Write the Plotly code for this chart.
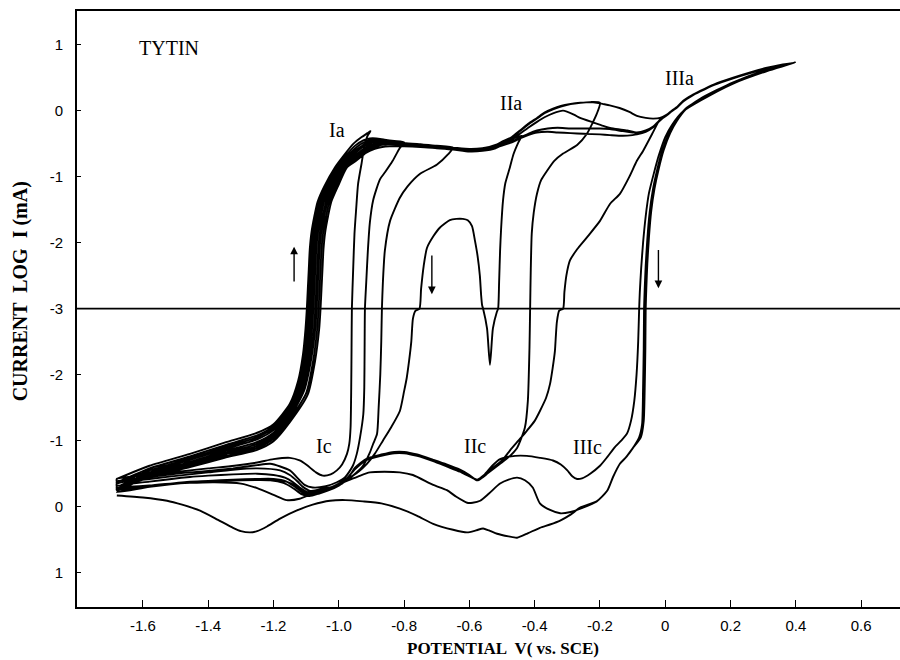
import plotly.graph_objects as go

# ---------------- data (potential E in V vs SCE, L = log10 |I| in mA) ----------------
# half "a": anodic current (upper panel), half "c": cathodic current (lower, mirrored panel)

# cycle 1 (switch at Ia peak)
c1_fc_E = [-1.68, -1.58, -1.456, -1.35, -1.25, -1.20, -1.15, -1.125, -1.11, -1.102, -1.098]
c1_fc_L = [-0.42, -0.62, -0.80, -0.97, -1.12, -1.25, -1.56, -1.9, -2.3, -2.7, -3.0]
c1_fa_E = [-1.098, -1.095, -1.092, -1.089, -1.084, -1.075, -1.065, -1.045, -1.012, -0.985, -0.955, -0.930, -0.912, -0.903]
c1_fa_L = [-3.0, -2.7, -2.4, -2.1, -1.85, -1.6, -1.38, -1.15, -0.86, -0.68, -0.50, -0.40, -0.34, -0.31]
c1_ra_E = [-0.903, -0.912, -0.922, -0.930, -0.941, -0.947, -0.952, -0.956, -0.960]
c1_ra_L = [-0.31, -0.38, -0.55, -0.79, -1.11, -1.5, -1.86, -2.4, -3.0]
c1_rc_E = [-0.960, -0.961, -0.962, -0.964, -0.968, -0.975, -0.99, -1.006, -1.025, -1.049, -1.07, -1.098, -1.12,
           -1.15, -1.20, -1.25, -1.32, -1.40, -1.456, -1.58, -1.68]
c1_rc_L = [-3.0, -2.4, -1.8, -1.2, -0.95, -0.80, -0.64, -0.55, -0.49, -0.47, -0.52, -0.63, -0.70,
           -0.74, -0.72, -0.67, -0.62, -0.58, -0.55, -0.48, -0.42]

# cycle 2
c2_fc_E = [-1.68, -1.58, -1.456, -1.35, -1.25, -1.20, -1.15, -1.122, -1.106, -1.097, -1.093]
c2_fc_L = [-0.38, -0.58, -0.76, -0.93, -1.08, -1.22, -1.52, -1.88, -2.3, -2.7, -3.0]
c2_fa_E = [-1.093, -1.090, -1.087, -1.084, -1.079, -1.070, -1.060, -1.040, -1.007, -0.980, -0.950, -0.925, -0.905,
           -0.885, -0.86, -0.83, -0.80]
c2_fa_L = [-3.0, -2.7, -2.4, -2.1, -1.85, -1.6, -1.38, -1.15, -0.86, -0.69, -0.53, -0.45, -0.42,
           -0.42, -0.44, -0.46, -0.48]
c2_ra_E = [-0.80, -0.815, -0.835, -0.858, -0.874, -0.895, -0.905, -0.911, -0.916, -0.920]
c2_ra_L = [-0.48, -0.58, -0.76, -0.93, -1.04, -1.36, -1.7, -2.12, -2.6, -3.0]
c2_rc_E = [-0.920, -0.921, -0.922, -0.925, -0.935, -0.945, -0.957, -0.98, -1.006, -1.04, -1.08, -1.105, -1.12,
           -1.15, -1.21, -1.25, -1.324, -1.40, -1.456, -1.58, -1.68]
c2_rc_L = [-3.0, -2.4, -1.8, -1.4, -1.05, -0.80, -0.62, -0.45, -0.37, -0.31, -0.29, -0.33, -0.40,
           -0.55, -0.65, -0.63, -0.58, -0.54, -0.52, -0.45, -0.38]

# cycle 3
c3_fc_E = [-1.68, -1.58, -1.456, -1.35, -1.25, -1.20, -1.15, -1.12, -1.102, -1.092, -1.088]
c3_fc_L = [-0.35, -0.55, -0.73, -0.90, -1.05, -1.19, -1.48, -1.85, -2.3, -2.7, -3.0]
c3_fa_E = [-1.088, -1.085, -1.082, -1.079, -1.074, -1.065, -1.055, -1.035, -1.002, -0.975, -0.945, -0.918, -0.898,
           -0.88, -0.85, -0.80, -0.75, -0.70, -0.65]
c3_fa_L = [-3.0, -2.7, -2.4, -2.1, -1.85, -1.6, -1.38, -1.15, -0.86, -0.70, -0.55, -0.47, -0.44,
           -0.44, -0.46, -0.49, -0.51, -0.53, -0.56]
c3_ra_E = [-0.65, -0.665, -0.70, -0.751, -0.79, -0.813, -0.843, -0.859, -0.865, -0.868]
c3_ra_L = [-0.56, -0.66, -0.82, -0.955, -1.15, -1.32, -1.67, -2.12, -2.6, -3.0]
c3_rc_E = [-0.868, -0.870, -0.873, -0.878, -0.883, -0.895, -0.905, -0.926, -0.95, -0.975, -1.0, -1.027, -1.06,
           -1.088, -1.11, -1.128, -1.15, -1.18, -1.25, -1.324, -1.40, -1.456, -1.58, -1.68]
c3_rc_L = [-3.0, -2.5, -2.0, -1.5, -1.1, -0.95, -0.82, -0.62, -0.50, -0.40, -0.33, -0.29, -0.26,
           -0.24, -0.30, -0.39, -0.48, -0.55, -0.58, -0.56, -0.52, -0.49, -0.42, -0.35]

# cycle 4 (switch after IIa onset; re-oxidation dome)
c4_fc_E = [-1.68, -1.58, -1.456, -1.35, -1.25, -1.20, -1.15, -1.117, -1.098, -1.087, -1.083]
c4_fc_L = [-0.31, -0.52, -0.71, -0.87, -1.02, -1.16, -1.45, -1.82, -2.28, -2.7, -3.0]
c4_fa_E = [-1.083, -1.080, -1.077, -1.074, -1.069, -1.060, -1.050, -1.030, -0.998, -0.970, -0.940, -0.912, -0.890,
           -0.87, -0.84, -0.80, -0.75, -0.70, -0.65, -0.60, -0.56, -0.52, -0.49, -0.465, -0.44]
c4_fa_L = [-3.0, -2.7, -2.4, -2.1, -1.85, -1.6, -1.38, -1.15, -0.86, -0.71, -0.57, -0.49, -0.46,
           -0.45, -0.47, -0.50, -0.52, -0.54, -0.57, -0.59, -0.58, -0.54, -0.48, -0.42, -0.38]
c4_ra_E = [-0.44, -0.45, -0.465, -0.476, -0.49, -0.497, -0.503, -0.506, -0.509, -0.512]
c4_ra_L = [-0.38, -0.48, -0.66, -0.86, -1.1, -1.36, -1.8, -2.12, -2.6, -3.0]
c4_sp_E = [-0.512, -0.516, -0.528, -0.537, -0.546, -0.558]
c4_sp_L = [-3.0, -2.95, -2.7, -2.15, -2.7, -3.0]
c4_dm_E = [-0.558, -0.561, -0.564, -0.568, -0.575, -0.583, -0.592, -0.605, -0.62, -0.64, -0.66, -0.69, -0.71,
           -0.73, -0.74, -0.748, -0.753]
c4_dm_L = [-3.0, -2.95, -2.8, -2.5, -2.2, -1.97, -1.75, -1.66, -1.64, -1.64, -1.66, -1.77, -1.9,
           -2.08, -2.35, -2.7, -3.0]
c4_rc_E = [-0.753, -0.765, -0.773, -0.778, -0.785, -0.792, -0.80, -0.813, -0.84, -0.865, -0.89, -0.914, -0.94,
           -0.966, -0.99, -1.018, -1.05, -1.079, -1.10, -1.12, -1.14, -1.165, -1.20, -1.25, -1.324, -1.40,
           -1.456, -1.58, -1.68]
c4_rc_L = [-3.0, -2.97, -2.85, -2.5, -2.2, -1.95, -1.75, -1.45, -1.2, -1.0, -0.8, -0.65, -0.53,
           -0.44, -0.35, -0.29, -0.23, -0.20, -0.23, -0.29, -0.37, -0.44, -0.48, -0.50, -0.49, -0.47,
           -0.45, -0.38, -0.31]

# cycle 5 (switch at IIa peak)
c5_fc_E = [-1.68, -1.58, -1.456, -1.35, -1.25, -1.20, -1.15, -1.114, -1.094, -1.082, -1.078]
c5_fc_L = [-0.28, -0.50, -0.68, -0.84, -0.98, -1.12, -1.42, -1.8, -2.26, -2.7, -3.0]
c5_fa_E = [-1.078, -1.075, -1.072, -1.069, -1.064, -1.055, -1.045, -1.025, -0.993, -0.965, -0.935, -0.908, -0.885,
           -0.86, -0.83, -0.80, -0.75, -0.70, -0.65, -0.60, -0.56, -0.52, -0.50, -0.47, -0.445, -0.42,
           -0.393, -0.37, -0.344, -0.32, -0.29, -0.26, -0.23, -0.20]
c5_fa_L = [-3.0, -2.7, -2.4, -2.1, -1.85, -1.6, -1.38, -1.15, -0.86, -0.72, -0.58, -0.50, -0.47,
           -0.46, -0.47, -0.49, -0.51, -0.53, -0.56, -0.58, -0.57, -0.52, -0.47, -0.40, -0.30, -0.20,
           -0.11, -0.03, 0.03, 0.07, 0.10, 0.12, 0.13, 0.12]
c5_ra_E = [-0.20, -0.21, -0.24, -0.27, -0.313, -0.34, -0.362, -0.38, -0.393, -0.403, -0.409, -0.412, -0.414]
c5_ra_L = [0.12, -0.05, -0.35, -0.52, -0.65, -0.76, -0.91, -1.05, -1.26, -1.55, -1.86, -2.4, -3.0]
c5_rc_E = [-0.414, -0.416, -0.421, -0.43, -0.454, -0.48, -0.506, -0.546, -0.574, -0.60, -0.629, -0.67, -0.711,
           -0.76, -0.80, -0.83, -0.87, -0.914, -0.95, -0.975, -1.0, -1.027, -1.06, -1.088, -1.11, -1.134,
           -1.16, -1.20, -1.25, -1.324, -1.40, -1.456, -1.58, -1.68]
c5_rc_L = [-3.0, -2.4, -1.6, -1.2, -0.89, -0.75, -0.65, -0.5, -0.40, -0.47, -0.55, -0.62, -0.70,
           -0.78, -0.82, -0.82, -0.78, -0.72, -0.58, -0.42, -0.33, -0.27, -0.22, -0.18, -0.21, -0.30,
           -0.38, -0.42, -0.42, -0.41, -0.39, -0.38, -0.32, -0.28]

# cycle 6 (switch near 0 V)
c6_fc_E = [-1.68, -1.58, -1.456, -1.35, -1.25, -1.20, -1.15, -1.11, -1.089, -1.076, -1.072]
c6_fc_L = [-0.25, -0.48, -0.66, -0.81, -0.95, -1.09, -1.38, -1.78, -2.24, -2.7, -3.0]
c6_fa_E = [-1.072, -1.069, -1.066, -1.063, -1.058, -1.049, -1.039, -1.019, -0.988, -0.960, -0.930, -0.903, -0.880,
           -0.85, -0.80, -0.75, -0.70, -0.65, -0.60, -0.56, -0.52, -0.50, -0.47, -0.445, -0.42, -0.393,
           -0.36, -0.33, -0.29, -0.25, -0.20, -0.17, -0.13, -0.10, -0.087, -0.06, -0.037, -0.016, -0.005]
c6_fa_L = [-3.0, -2.7, -2.4, -2.1, -1.85, -1.6, -1.38, -1.15, -0.86, -0.73, -0.60, -0.52, -0.49,
           -0.48, -0.50, -0.52, -0.54, -0.57, -0.60, -0.59, -0.55, -0.52, -0.47, -0.41, -0.35, -0.30,
           -0.27, -0.26, -0.27, -0.27, -0.27, -0.28, -0.31, -0.33, -0.34, -0.31, -0.24, -0.14, -0.09]
c6_ra_E = [-0.005, -0.016, -0.04, -0.068, -0.087, -0.11, -0.139, -0.169, -0.20, -0.24, -0.27, -0.292, -0.303,
           -0.309, -0.313]
c6_ra_L = [-0.09, -0.13, -0.35, -0.61, -0.76, -1.0, -1.26, -1.41, -1.67, -1.92, -2.1, -2.27, -2.5,
           -2.75, -3.0]
c6_rc_E = [-0.313, -0.325, -0.332, -0.335, -0.338, -0.345, -0.353, -0.365, -0.384, -0.40, -0.424, -0.45, -0.476,
           -0.50, -0.528, -0.55, -0.567, -0.578, -0.60, -0.629, -0.67, -0.711, -0.76, -0.80, -0.83, -0.87,
           -0.914, -0.95, -0.975, -1.0, -1.03, -1.06, -1.09, -1.115, -1.14, -1.17, -1.21, -1.30, -1.40,
           -1.456, -1.58, -1.68]
c6_rc_L = [-3.0, -2.97, -2.8, -2.6, -2.36, -2.1, -1.86, -1.65, -1.45, -1.3, -1.15, -1.0, -0.85,
           -0.7, -0.59, -0.48, -0.42, -0.40, -0.48, -0.56, -0.64, -0.71, -0.79, -0.83, -0.83, -0.79,
           -0.73, -0.59, -0.41, -0.32, -0.25, -0.20, -0.16, -0.19, -0.28, -0.36, -0.40, -0.40, -0.38,
           -0.37, -0.31, -0.25]

# cycle 7 (to +0.4 V, upper IIa path, IIIc return)
c7_fc_E = [-1.68, -1.58, -1.456, -1.35, -1.25, -1.20, -1.15, -1.106, -1.085, -1.072, -1.068]
c7_fc_L = [-0.25, -0.47, -0.64, -0.79, -0.92, -1.06, -1.35, -1.76, -2.22, -2.7, -3.0]
c7_fa_E = [-1.068, -1.065, -1.062, -1.059, -1.054, -1.045, -1.035, -1.015, -0.985, -0.957, -0.927, -0.900, -0.877,
           -0.85, -0.80, -0.75, -0.70, -0.65, -0.60, -0.56, -0.52, -0.50, -0.47, -0.445, -0.42, -0.393,
           -0.37, -0.344, -0.32, -0.29, -0.26, -0.23, -0.21, -0.19, -0.17, -0.14, -0.11, -0.087, -0.06,
           -0.037, -0.016, 0.005, 0.02, 0.037, 0.055, 0.08, 0.107, 0.15, 0.208, 0.26, 0.312, 0.36, 0.398]
c7_fa_L = [-3.0, -2.7, -2.4, -2.1, -1.85, -1.6, -1.38, -1.15, -0.86, -0.74, -0.62, -0.54, -0.50,
           -0.49, -0.50, -0.52, -0.54, -0.56, -0.58, -0.57, -0.53, -0.48, -0.41, -0.31, -0.21, -0.12,
           -0.04, 0.02, 0.06, 0.10, 0.12, 0.13, 0.12, 0.10, 0.08, 0.04, -0.02, -0.08, -0.11,
           -0.12, -0.11, -0.06, 0.0, 0.06, 0.15, 0.23, 0.30, 0.40, 0.50, 0.58, 0.65, 0.70, 0.73]
c7_ra_E = [0.398, 0.312, 0.208, 0.107, 0.055, 0.02, 0.0, -0.02, -0.035, -0.05, -0.06, -0.068, -0.074, -0.078, -0.080]
c7_ra_L = [0.73, 0.60, 0.41, 0.15, -0.01, -0.22, -0.40, -0.68, -0.95, -1.25, -1.6, -2.0, -2.4, -2.75, -3.0]
c7_rc_E = [-0.080, -0.083, -0.088, -0.095, -0.105, -0.117, -0.135, -0.155, -0.178, -0.20, -0.23, -0.255, -0.27,
           -0.285, -0.30, -0.32, -0.344, -0.384, -0.424, -0.46, -0.506, -0.53, -0.555, -0.576, -0.60, -0.629,
           -0.67, -0.711, -0.76, -0.80, -0.83, -0.87, -0.914, -0.95, -0.975, -1.0, -1.03, -1.065, -1.095,
           -1.12, -1.145, -1.18, -1.25, -1.35, -1.456, -1.58, -1.68]
c7_rc_L = [-3.0, -2.5, -2.0, -1.6, -1.3, -1.11, -1.0, -0.9, -0.75, -0.62, -0.50, -0.43, -0.42,
           -0.46, -0.55, -0.64, -0.70, -0.74, -0.77, -0.77, -0.72, -0.62, -0.48, -0.41, -0.46, -0.53,
           -0.61, -0.69, -0.77, -0.81, -0.81, -0.77, -0.71, -0.57, -0.43, -0.35, -0.28, -0.24, -0.21,
           -0.26, -0.35, -0.40, -0.41, -0.40, -0.37, -0.30, -0.22]

# cycle 8 (to +0.4 V, lower IIa path)
c8_fc_E = [-1.68, -1.58, -1.456, -1.35, -1.25, -1.20, -1.15, -1.10, -1.079, -1.066, -1.062]
c8_fc_L = [-0.22, -0.46, -0.62, -0.76, -0.89, -1.03, -1.32, -1.72, -2.2, -2.7, -3.0]
c8_fa_E = [-1.062, -1.059, -1.056, -1.053, -1.048, -1.039, -1.029, -1.009, -0.980, -0.952, -0.922, -0.895, -0.872,
           -0.85, -0.80, -0.75, -0.70, -0.65, -0.60, -0.56, -0.52, -0.50, -0.47, -0.445, -0.42, -0.393,
           -0.36, -0.33, -0.29, -0.25, -0.20, -0.17, -0.13, -0.10, -0.087, -0.06, -0.037, -0.016, 0.005,
           0.02, 0.037, 0.055, 0.08, 0.107, 0.15, 0.208, 0.26, 0.312, 0.36, 0.398]
c8_fa_L = [-3.0, -2.7, -2.4, -2.1, -1.85, -1.6, -1.38, -1.15, -0.86, -0.75, -0.63, -0.56, -0.52,
           -0.51, -0.52, -0.53, -0.55, -0.58, -0.61, -0.60, -0.56, -0.53, -0.48, -0.42, -0.37, -0.33,
           -0.32, -0.33, -0.34, -0.35, -0.36, -0.37, -0.38, -0.37, -0.36, -0.32, -0.25, -0.15, -0.06,
           0.0, 0.06, 0.14, 0.22, 0.29, 0.39, 0.49, 0.57, 0.64, 0.69, 0.73]
c8_ra_E = [0.398, 0.312, 0.208, 0.107, 0.06, 0.03, 0.01, -0.01, -0.025, -0.038, -0.048, -0.055, -0.060, -0.063, -0.065]
c8_ra_L = [0.73, 0.61, 0.42, 0.17, 0.02, -0.18, -0.36, -0.62, -0.9, -1.2, -1.55, -1.95, -2.35, -2.7, -3.0]
c8_rc_E = [-0.065, -0.066, -0.068, -0.071, -0.08, -0.099, -0.12, -0.139, -0.16, -0.178, -0.21, -0.252, -0.29,
           -0.322, -0.353, -0.384, -0.406, -0.43, -0.454, -0.48, -0.506, -0.54, -0.567, -0.59, -0.607, -0.64,
           -0.669, -0.711, -0.773, -0.813, -0.86, -0.905, -0.94, -0.975, -1.02, -1.079, -1.12, -1.16, -1.20,
           -1.25, -1.30, -1.38, -1.456, -1.58, -1.68]
c8_rc_L = [-3.0, -2.4, -1.8, -1.25, -1.05, -0.89, -0.75, -0.65, -0.45, -0.24, -0.08, 0.015, 0.08,
           0.10, 0.05, -0.05, -0.29, -0.40, -0.44, -0.41, -0.35, -0.2, -0.09, -0.06, -0.06, -0.15,
           -0.25, -0.33, -0.48, -0.52, -0.53, -0.52, -0.46, -0.39, -0.30, -0.20, -0.12, -0.10, -0.18,
           -0.28, -0.35, -0.37, -0.36, -0.32, -0.27]

# cycle 9 (to +0.4 V, crossing IIa path, outermost return)
c9_fc_E = [-1.68, -1.58, -1.456, -1.35, -1.25, -1.20, -1.15, -1.095, -1.073, -1.06, -1.056]
c9_fc_L = [-0.27, -0.44, -0.60, -0.74, -0.86, -0.99, -1.28, -1.7, -2.2, -2.7, -3.0]
c9_fa_E = [-1.056, -1.053, -1.050, -1.047, -1.042, -1.033, -1.023, -1.003, -0.975, -0.947, -0.917, -0.890, -0.867,
           -0.845, -0.80, -0.75, -0.70, -0.65, -0.60, -0.56, -0.52, -0.50, -0.47, -0.445, -0.42, -0.393,
           -0.37, -0.344, -0.313, -0.28, -0.261, -0.22, -0.19, -0.16, -0.117, -0.087, -0.06, -0.037, -0.016,
           0.005, 0.02, 0.037, 0.055, 0.08, 0.107, 0.15, 0.208, 0.26, 0.312, 0.36, 0.398]
c9_fa_L = [-3.0, -2.7, -2.4, -2.1, -1.85, -1.6, -1.38, -1.15, -0.86, -0.76, -0.64, -0.58, -0.55,
           -0.54, -0.54, -0.55, -0.57, -0.59, -0.62, -0.61, -0.57, -0.52, -0.44, -0.35, -0.26, -0.17,
           -0.10, -0.04, 0.0, -0.06, -0.11, -0.18, -0.23, -0.27, -0.30, -0.33, -0.30, -0.24, -0.14,
           -0.07, -0.01, 0.05, 0.14, 0.22, 0.29, 0.39, 0.49, 0.57, 0.64, 0.69, 0.73]
c9_ra_E = [0.398, 0.312, 0.208, 0.107, 0.065, 0.035, 0.015, -0.005, -0.02, -0.033, -0.043, -0.050, -0.055, -0.058, -0.060]
c9_ra_L = [0.73, 0.62, 0.43, 0.18, 0.03, -0.16, -0.34, -0.60, -0.88, -1.18, -1.52, -1.92, -2.32, -2.68, -3.0]
c9_rc_E = [-0.060, -0.061, -0.063, -0.066, -0.075, -0.099, -0.12, -0.139, -0.16, -0.178, -0.21, -0.261, -0.29,
           -0.322, -0.353, -0.384, -0.42, -0.454, -0.48, -0.515, -0.54, -0.558, -0.58, -0.607, -0.65, -0.711,
           -0.76, -0.813, -0.87, -0.926, -0.98, -1.027, -1.08, -1.13, -1.18, -1.22, -1.25, -1.272, -1.30,
           -1.324, -1.37, -1.425, -1.48, -1.526, -1.60, -1.68]
c9_rc_L = [-3.0, -2.4, -1.8, -1.3, -1.05, -0.89, -0.75, -0.65, -0.45, -0.24, -0.08, 0.015, 0.12,
           0.21, 0.27, 0.32, 0.40, 0.47, 0.45, 0.41, 0.36, 0.33, 0.36, 0.39, 0.35, 0.26,
           0.14, 0.03, -0.05, -0.08, -0.10, -0.09, -0.03, 0.06, 0.18, 0.30, 0.37, 0.39, 0.37,
           0.32, 0.20, 0.06, -0.03, -0.09, -0.14, -0.17]

x_tick_vals = [-1.6, -1.4, -1.2, -1.0, -0.8, -0.6, -0.4, -0.2, 0.0, 0.2, 0.4, 0.6]
x_tick_text = ["-1.6", "-1.4", "-1.2", "-1.0", "-0.8", "-0.6", "-0.4", "-0.2", "0", "0.2", "0.4", "0.6"]
y_tick_vals = [1, 0, -1, -2, -3, -4, -5, -6, -7]           # panel coordinate
y_tick_text = ["1", "0", "-1", "-2", "-3", "-2", "-1", "0", "1"]  # log I labels (mirrored below -3)

peak_labels = ["Ia", "IIa", "IIIa", "Ic", "IIc", "IIIc"]
peak_E = [-1.006, -0.473, 0.043, -1.045, -0.583, -0.237]
peak_logI = [-0.30, 0.12, 0.50, -0.92, -0.92, -0.91]
peak_half = ["a", "a", "a", "c", "c", "c"]

# ---------------- build ----------------
cycles = [
    [("c", c1_fc_E, c1_fc_L), ("a", c1_fa_E, c1_fa_L), ("a", c1_ra_E, c1_ra_L), ("c", c1_rc_E, c1_rc_L)],
    [("c", c2_fc_E, c2_fc_L), ("a", c2_fa_E, c2_fa_L), ("a", c2_ra_E, c2_ra_L), ("c", c2_rc_E, c2_rc_L)],
    [("c", c3_fc_E, c3_fc_L), ("a", c3_fa_E, c3_fa_L), ("a", c3_ra_E, c3_ra_L), ("c", c3_rc_E, c3_rc_L)],
    [("c", c4_fc_E, c4_fc_L), ("a", c4_fa_E, c4_fa_L), ("a", c4_ra_E, c4_ra_L), ("c", c4_sp_E, c4_sp_L),
     ("a", c4_dm_E, c4_dm_L), ("c", c4_rc_E, c4_rc_L)],
    [("c", c5_fc_E, c5_fc_L), ("a", c5_fa_E, c5_fa_L), ("a", c5_ra_E, c5_ra_L), ("c", c5_rc_E, c5_rc_L)],
    [("c", c6_fc_E, c6_fc_L), ("a", c6_fa_E, c6_fa_L), ("a", c6_ra_E, c6_ra_L), ("c", c6_rc_E, c6_rc_L)],
    [("c", c7_fc_E, c7_fc_L), ("a", c7_fa_E, c7_fa_L), ("a", c7_ra_E, c7_ra_L), ("c", c7_rc_E, c7_rc_L)],
    [("c", c8_fc_E, c8_fc_L), ("a", c8_fa_E, c8_fa_L), ("a", c8_ra_E, c8_ra_L), ("c", c8_rc_E, c8_rc_L)],
    [("c", c9_fc_E, c9_fc_L), ("a", c9_fa_E, c9_fa_L), ("a", c9_ra_E, c9_ra_L), ("c", c9_rc_E, c9_rc_L)],
]


def panel_y(half, L):
    return L if half == "a" else -6.0 - L


xs, ys = [], []
for cyc in cycles:
    for half, E, L in cyc:
        for e, l in zip(E, L):
            y = panel_y(half, l)
            if xs and abs(xs[-1] - e) < 1e-9 and abs(ys[-1] - y) < 1e-9:
                continue
            xs.append(e)
            ys.append(y)

fig = go.Figure()
fig.add_trace(go.Scatter(x=xs, y=ys, mode="lines",
                         line=dict(color="black", width=1.9, shape="spline", smoothing=0.6),
                         hoverinfo="skip", showlegend=False))

fig.add_shape(type="line", xref="paper", x0=0, x1=1, yref="y", y0=-3, y1=-3,
              line=dict(color="black", width=1.8))

serif = "Liberation Serif, Times New Roman, serif"
for lab, e, l, h in zip(peak_labels, peak_E, peak_logI, peak_half):
    fig.add_annotation(x=e, y=panel_y(h, l), text=lab, showarrow=False,
                       xanchor="center", yanchor="middle",
                       font=dict(family=serif, size=20, color="black"))

fig.add_annotation(x=-1.618, y=0.955, text="TYTIN", showarrow=False, xanchor="left", yanchor="middle",
                   font=dict(family=serif, size=20, color="black"))

# scan-direction arrows
for (xa, y_tail, y_head) in [(-1.137, -2.61, -2.06), (-0.715, -2.17, -2.78), (-0.021, -2.09, -2.69)]:
    fig.add_annotation(x=xa, y=y_head, ax=xa, ay=y_tail, axref="x", ayref="y", xref="x", yref="y",
                       text="", showarrow=True, arrowhead=2, arrowsize=1.1, arrowwidth=1.4,
                       arrowcolor="black")

# axis titles
fig.add_annotation(xref="paper", yref="paper", x=-0.069, y=0.53, text="<b>CURRENT  LOG  I (mA)</b>",
                   textangle=-90, showarrow=False, xanchor="center", yanchor="middle",
                   font=dict(family=serif, size=20, color="black"))
fig.add_annotation(xref="paper", yref="paper", x=0.518, y=-0.069, text="<b>POTENTIAL  V( vs. SCE)</b>",
                   showarrow=False, xanchor="center", yanchor="middle",
                   font=dict(family=serif, size=17, color="black"))

sans = "Liberation Sans, Arial, sans-serif"
fig.update_layout(
    width=900, height=660,
    margin=dict(l=77, r=0, t=11, b=53),
    paper_bgcolor="white", plot_bgcolor="white",
    xaxis=dict(range=[-1.802, 0.719], tickvals=x_tick_vals, ticktext=x_tick_text,
               showline=True, linecolor="black", linewidth=1.6, mirror=True,
               ticks="inside", ticklen=7, tickwidth=1.3, tickcolor="black", ticklabelstandoff=4,
               showgrid=False, zeroline=False, tickfont=dict(family=sans, size=15, color="black")),
    yaxis=dict(range=[-7.52, 1.51], tickvals=y_tick_vals, ticktext=y_tick_text,
               showline=True, linecolor="black", linewidth=1.6,
               ticks="inside", ticklen=4, tickwidth=1.3, tickcolor="black", ticklabelstandoff=9,
               showgrid=False, zeroline=False, tickfont=dict(family=sans, size=15, color="black")),
)

fig.write_html("out.html")
